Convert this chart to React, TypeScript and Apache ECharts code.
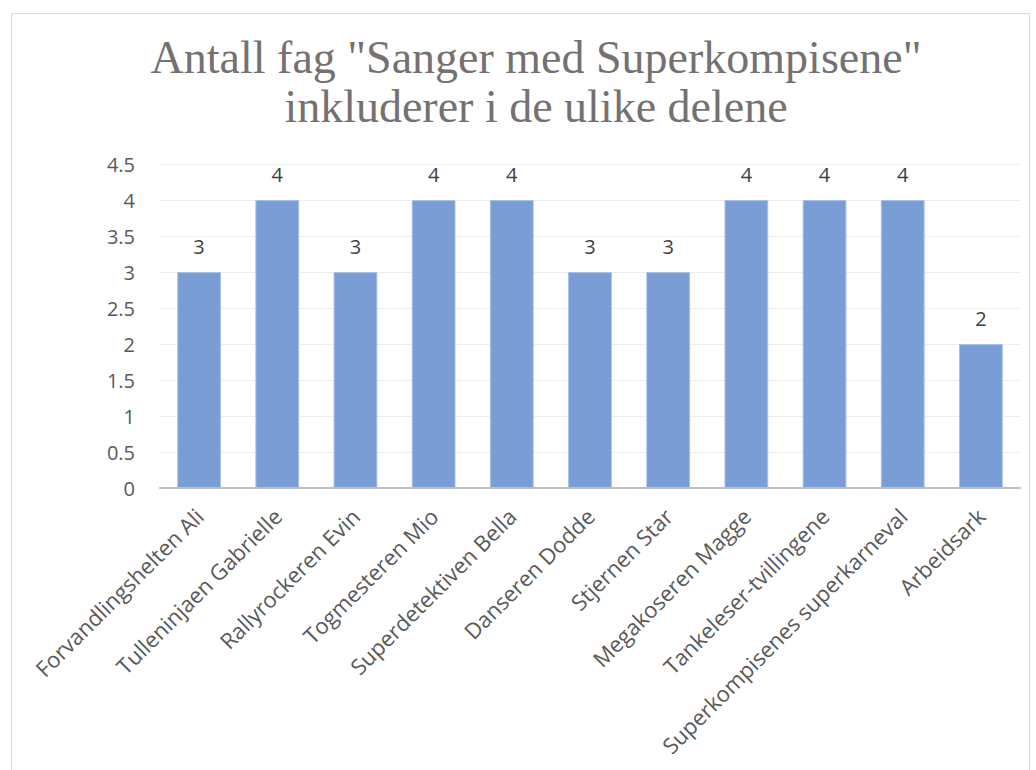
import React, { useEffect, useRef } from "react";
import * as echarts from "echarts";

const categories = [
  "Forvandlingshelten Ali",
  "Tulleninjaen Gabrielle",
  "Rallyrockeren Evin",
  "Togmesteren Mio",
  "Superdetektiven Bella",
  "Danseren Dodde",
  "Stjernen Star",
  "Megakoseren Magge",
  "Tankeleser-tvillingene",
  "Superkompisenes superkarneval",
  "Arbeidsark",
];
const values = [3, 4, 3, 4, 4, 3, 3, 4, 4, 4, 2];
const titleText = 'Antall fag "Sanger med Superkompisene"\ninkluderer i de ulike delene';

export default function App() {
  const ref = useRef<HTMLDivElement>(null);
  useEffect(() => {
    if (!ref.current) return;
    const chart = echarts.init(ref.current, null, { renderer: "svg" });
    chart.setOption({
      animation: false,
      backgroundColor: "#ffffff",
      title: {
        text: titleText,
        left: 531,
        top: 28,
        textAlign: "center",
        textStyle: {
          fontFamily: "Liberation Serif",
          fontWeight: "normal",
          fontSize: 46,
          lineHeight: 49,
          color: "#757171",
        },
      },
      graphic: [
        {
          type: "rect",
          shape: { x: 11.5, y: 13.5, width: 1018, height: 800 },
          style: { fill: "none", stroke: "#d9d9d9", lineWidth: 1 },
          silent: true,
        },
      ],
      grid: { left: 160, right: 16, top: 164, bottom: 282 },
      xAxis: {
        type: "category",
        data: categories,
        axisLine: { lineStyle: { color: "#bfbfbf", width: 2 } },
        axisTick: { show: false },
        axisLabel: {
          interval: 0,
          rotate: 45,
          fontFamily: "Open Sans",
          fontSize: 22,
          color: "#595959",
          margin: 24,
        },
      },
      yAxis: {
        type: "value",
        min: 0,
        max: 4.5,
        interval: 0.5,
        axisLine: { show: false },
        axisTick: { show: false },
        splitLine: { lineStyle: { color: "#ededed", width: 1 } },
        axisLabel: {
          fontFamily: "Open Sans",
          fontSize: 20,
          color: "#595959",
          margin: 25,
        },
      },
      series: [
        {
          type: "bar",
          data: values,
          barWidth: "56%",
          itemStyle: {
            color: "#7a9dd6",
            borderColor: "#a8c0e9",
            borderWidth: 1,
          },
          label: {
            show: true,
            position: "top",
            distance: 16,
            fontFamily: "Open Sans",
            fontSize: 20,
            color: "#404040",
          },
        },
      ],
    });
    return () => chart.dispose();
  }, []);
  return (
    <div
      ref={ref}
      style={{ position: "fixed", left: 0, top: 0, width: 1036, height: 770 }}
    />
  );
}
